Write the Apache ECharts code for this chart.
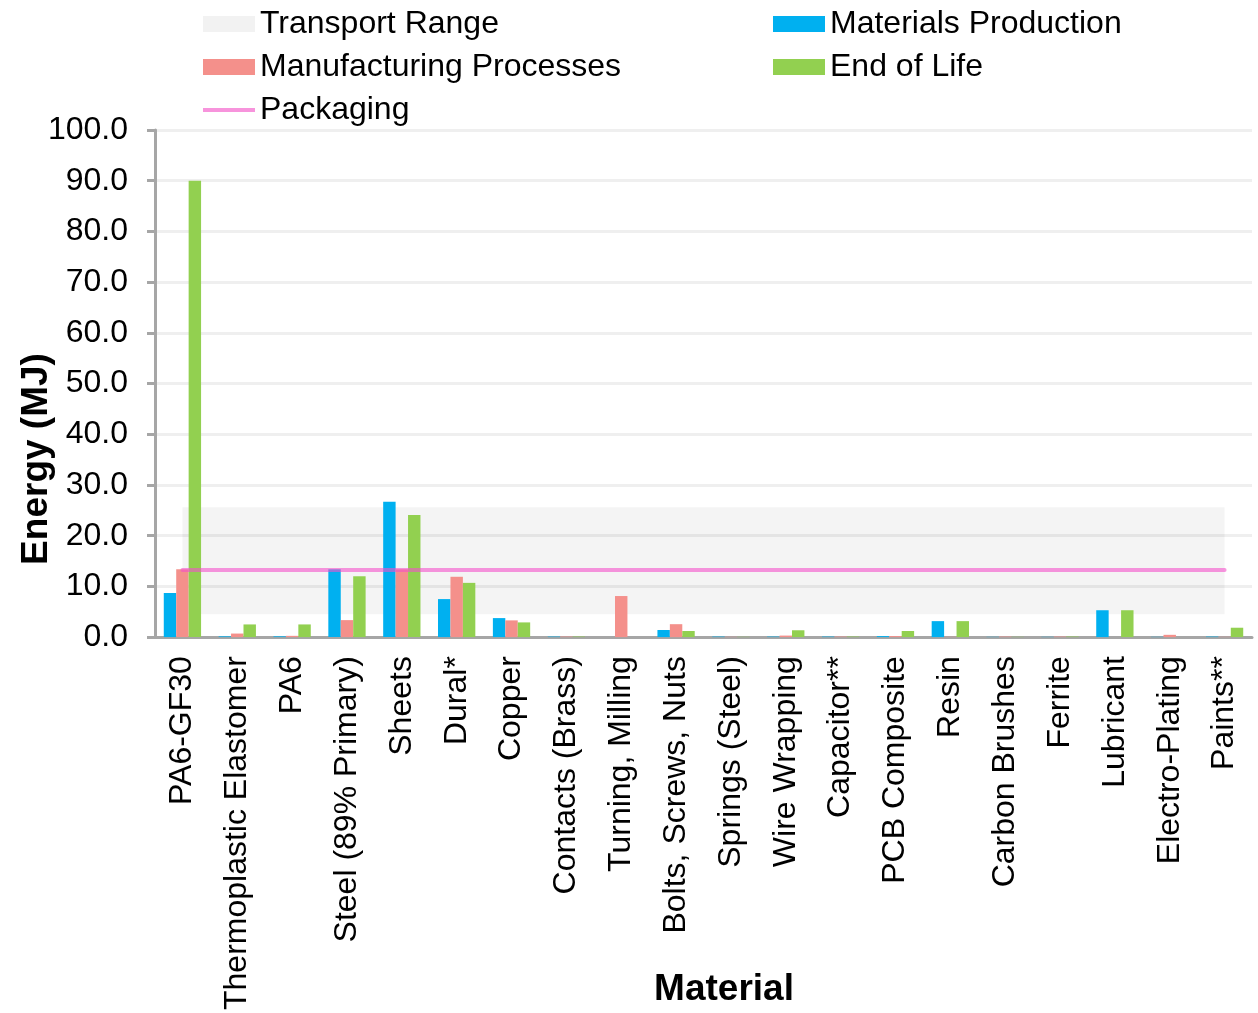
<!DOCTYPE html>
<html>
<head>
<meta charset="utf-8">
<script src="https://cdn.jsdelivr.net/npm/echarts@6/dist/echarts.min.js"></script>
<style>html,body{margin:0;padding:0;background:#fff}#c{width:1258px;height:1013px}</style>
</head>
<body>
<div id="c"></div>
<script>
const categories = ['PA6-GF30','Thermoplastic Elastomer','PA6','Steel (89% Primary)','Sheets','Dural*','Copper','Contacts (Brass)','Turning, Milling','Bolts, Screws, Nuts','Springs (Steel)','Wire Wrapping','Capacitor**','PCB Composite','Resin','Carbon Brushes','Ferrite','Lubricant','Electro-Plating','Paints**'];
const materialsProduction = [8.7, 0.15, 0.15, 13.4, 26.7, 7.5, 3.75, 0.1, 0, 1.4, 0.1, 0.1, 0.1, 0.2, 3.15, 0.05, 0.05, 5.3, 0.05, 0.1];
const manufacturingProcesses = [13.4, 0.7, 0.25, 3.35, 13.4, 11.9, 3.3, 0.1, 8.1, 2.55, 0.05, 0.3, 0.1, 0.2, 0.05, 0.1, 0.1, 0, 0.45, 0.05];
const endOfLife = [90.0, 2.5, 2.5, 12.0, 24.1, 10.7, 2.9, 0.1, 0, 1.2, 0.05, 1.35, 0.1, 1.2, 3.15, 0.05, 0.1, 5.3, 0, 1.85];
const transportRange = [4.5, 25.6];
const packaging = 13.3;
const yTicks = [0, 10, 20, 30, 40, 50, 60, 70, 80, 90, 100];

const FONT = '"Liberation Sans", Arial, sans-serif';
const chart = echarts.init(document.getElementById('c'), null, {renderer: 'canvas'});
const legendText = {fontSize: 32, color: '#000', fontFamily: FONT, lineHeight: 32};

chart.setOption({
  animation: false,
  textStyle: {fontFamily: FONT},
  legend: [
    {
      orient: 'vertical', left: 203, top: 8, padding: 0, itemWidth: 52, itemHeight: 16, itemGap: 11,
      textStyle: legendText,
      data: [
        {name: 'Transport Range', icon: 'rect', itemStyle: {color: '#f2f2f2'}},
        {name: 'Manufacturing Processes', icon: 'rect'},
        {name: 'Packaging', icon: 'path://M0,0L52,0L52,4L0,4Z', itemStyle: {color: '#f794dc'}}
      ]
    },
    {
      orient: 'vertical', left: 773, top: 8, padding: 0, itemWidth: 52, itemHeight: 16, itemGap: 11,
      textStyle: legendText,
      data: [
        {name: 'Materials Production', icon: 'rect'},
        {name: 'End of Life', icon: 'rect'}
      ]
    }
  ],
  grid: {left: 155, right: 6, top: 130, bottom: 375, containLabel: false},
  xAxis: {
    type: 'category',
    data: categories,
    axisLine: {show: true, lineStyle: {color: '#a6a6a6', width: 3}},
    axisTick: {show: false},
    axisLabel: {interval: 0, rotate: 90, fontSize: 32, color: '#000', margin: 19, fontFamily: FONT},
    splitLine: {show: false}
  },
  yAxis: {
    type: 'value',
    min: 0, max: 100, interval: 10,
    axisLine: {show: true, lineStyle: {color: '#a6a6a6', width: 3}},
    axisTick: {show: true, length: 8, lineStyle: {color: '#a6a6a6', width: 3}},
    axisLabel: {fontSize: 32, color: '#000', margin: 27, fontFamily: FONT,
      formatter: v => yTicks.indexOf(v) >= 0 ? v.toFixed(1) : ''},
    splitLine: {show: true, lineStyle: {color: '#efefef', width: 3}}
  },
  series: [
    {
      name: 'Transport Range', type: 'line', data: [], z: 1,
      itemStyle: {color: '#f2f2f2'}, lineStyle: {color: '#f2f2f2'},
      markArea: {
        silent: true,
        itemStyle: {color: 'rgba(0,0,0,0.045)'},
        data: [[{xAxis: categories[0], yAxis: transportRange[0]}, {xAxis: categories[categories.length - 1], yAxis: transportRange[1]}]]
      }
    },
    {
      name: 'Materials Production', type: 'bar', data: materialsProduction,
      barGap: '0%', barCategoryGap: '32%', itemStyle: {color: '#00b0f0'}
    },
    {
      name: 'Manufacturing Processes', type: 'bar', data: manufacturingProcesses,
      barGap: '0%', barCategoryGap: '32%', itemStyle: {color: '#f4908b'}
    },
    {
      name: 'End of Life', type: 'bar', data: endOfLife,
      barGap: '0%', barCategoryGap: '32%', itemStyle: {color: '#92d050'}
    },
    {
      name: 'Packaging', type: 'line', data: [], z: 5, symbol: 'none',
      itemStyle: {color: '#f794dc'}, lineStyle: {color: '#f794dc', width: 4},
      markLine: {
        silent: true, symbol: 'none', label: {show: false},
        lineStyle: {color: 'rgba(243,80,201,0.6)', width: 4, type: 'solid', cap: 'round'},
        data: [[{xAxis: categories[0], yAxis: packaging}, {xAxis: categories[categories.length - 1], yAxis: packaging}]]
      }
    }
  ],
  graphic: [
    {type: 'text', x: 37, y: 459, rotation: Math.PI / 2,
      style: {text: 'Energy (MJ)', fontSize: 37, fontWeight: 'bold', fill: '#000', fontFamily: FONT, align: 'center', verticalAlign: 'middle'}},
    {type: 'text', x: 724, y: 990,
      style: {text: 'Material', fontSize: 37, fontWeight: 'bold', fill: '#000', fontFamily: FONT, align: 'center', verticalAlign: 'middle'}}
  ]
});
</script>
</body>
</html>
